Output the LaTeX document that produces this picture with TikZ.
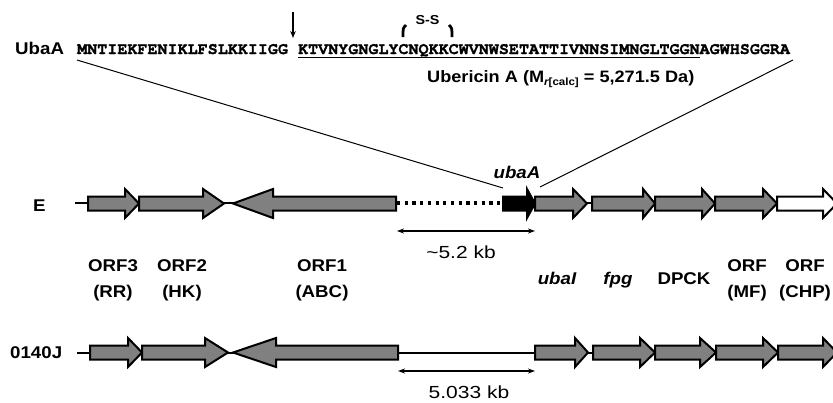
\documentclass[tikz,border=0pt]{standalone}
\usepackage{fontspec}
\setmainfont{Liberation Sans}
\newfontfamily\lab[FakeStretch=1.2]{Liberation Sans}
\newfontfamily\labb[FakeStretch=1.1]{Liberation Sans Bold}
\newfontfamily\labbi[FakeStretch=1.1]{Liberation Sans Bold Italic}
\newfontfamily\seqfont[FakeBold=1.2]{TeX Gyre Cursor Bold}
\usetikzlibrary{arrows.meta}
\definecolor{genegrey}{RGB}{128,128,128}
\newcommand\rgene[5]{\draw[gene,#5] (#1,#4-7) -- (#2,#4-7) -- (#2,#4-14.5) -- (#3,#4) -- (#2,#4+14.5) -- (#2,#4+7) -- (#1,#4+7) -- cycle;}
\newcommand\lgene[5]{\draw[gene,#5] (#3,#4-7) -- (#2,#4-7) -- (#2,#4-14.5) -- (#1,#4) -- (#2,#4+14.5) -- (#2,#4+7) -- (#3,#4+7) -- cycle;}
\begin{document}
\begin{tikzpicture}[x=1pt,y=-1pt,
  gene/.style={draw=black, line width=2pt, line join=miter, fill=genegrey},
  blab/.style={font=\labb\fontsize{17}{26}\selectfont, align=center, inner sep=0},
  ilab/.style={font=\labbi\fontsize{17}{26}\selectfont, align=center, inner sep=0},
  rlab/.style={font=\lab\fontsize{17.5}{20}\selectfont, inner sep=0},
  seq/.style={font=\seqfont\fontsize{16.73}{20}\selectfont, inner sep=0, anchor=base west},
  zoomline/.style={line width=1pt},
  dim/.style={{Stealth[length=7pt,width=5pt]}-{Stealth[length=7pt,width=5pt]}, line width=1.2pt},
  axis/.style={line width=2pt}]
\useasboundingbox (0,0) rectangle (833,402);
\clip (0,0) rectangle (833,402);

% ---- sequence
\node[blab, anchor=base west] (ubaA) at (15,54) {UbaA};
\node[seq] (seq1) at (77,54) {MNTIEKFENIKLFSLKKIIGG};
\node[seq] (seq2) at (297.9,54) {KTVNYGNGLYCNQKKCWVNWSETATTIVNNSIMNGLTGGNAGWHSGGRA};
\draw[line width=1.8pt] (297.9,57.5) -- (699.5,57.5);
\coordinate (cut0) at (293,12);
\coordinate (cut1) at (293,38);
\draw[-{Stealth[length=7pt,width=5.5pt]}, line width=1.3pt] (cut0) -- (cut1);
\node[font=\labb\fontsize{13}{14}\selectfont, inner sep=0] (ss) at (427.5,20) {S-S};
\draw[line width=2.8pt] (406,25) .. controls (403,28) .. (403,37);
\draw[line width=2.8pt] (449,25) .. controls (452,28) .. (452,37);
\node[font=\labb\fontsize{16.5}{18}\selectfont, anchor=base west, inner sep=0] (ubericin) at (427,82)
  {Ubericin A (M\raisebox{-3.5pt}{\fontsize{10.5}{10}\selectfont\labbi r\labb[calc]} = 5,271.5 Da)};

% ---- zoom lines
\coordinate (zl0) at (77,60);
\coordinate (zl1) at (503,188);
\coordinate (zr0) at (793,60);
\coordinate (zr1) at (540,187);
\draw[zoomline] (zl0) -- (zl1);
\draw[zoomline] (zr0) -- (zr1);

% ---- strain E
\node[blab, anchor=base west] (labE) at (33,211) {E};
\coordinate (e0) at (75,203);
\coordinate (e1) at (397,203);
\coordinate (e2) at (503,203);
\coordinate (e3) at (535,203);
\coordinate (e4) at (840,203);
\draw[axis] (e0) -- (e1);
\draw[line width=3.2pt, dash pattern=on 3.2pt off 4.5pt] (e1) -- (e2);
\draw[axis] (e3) -- (e4);
\rgene{88}{125}{139}{203.5}{}
\rgene{139}{203}{224}{203.5}{}
\lgene{233}{273}{396}{203.5}{}
\rgene{503}{527}{535}{203.5}{fill=black}
\rgene{535}{573}{587}{203.5}{}
\rgene{592}{643}{655}{203.5}{}
\rgene{655}{702}{715}{203.5}{}
\rgene{715}{763}{777}{203.5}{}
\rgene{777}{823}{837}{203.5}{fill=white}
\node[ilab] (ubaAlab) at (517,172) {ubaA};
\coordinate (d0) at (397,231);
\coordinate (d1) at (535,231);
\draw[dim] (d0) -- (d1);
\node[rlab] (kb1) at (461,252) {\textasciitilde5.2 kb};

% ---- gene labels
\node[blab] (l3) at (113,280) {ORF3\\(RR)};
\node[blab] (l2) at (182,280) {ORF2\\(HK)};
\node[blab] (l1) at (322,280) {ORF1\\(ABC)};
\node[ilab, anchor=base] (lI) at (557,284) {ubaI};
\node[ilab, anchor=base] (lf) at (618,284) {fpg};
\node[blab, anchor=base] (ld) at (684,284) {DPCK};
\node[blab] (lm) at (747,280) {ORF\\(MF)};
\node[blab] (lc) at (805,280) {ORF\\(CHP)};

% ---- strain 0140J
\node[blab, anchor=base west] (labJ) at (10,358) {0140J};
\coordinate (j0) at (77,352.5);
\coordinate (j1) at (840,352.5);
\draw[axis] (j0) -- (j1);
\rgene{90}{128}{142}{352.5}{}
\rgene{142}{205}{228}{352.5}{}
\lgene{233}{276}{398}{352.5}{}
\rgene{535}{575}{588}{352.5}{}
\rgene{593}{640}{655}{352.5}{}
\rgene{655}{700}{716}{352.5}{}
\rgene{716}{763}{778}{352.5}{}
\rgene{778}{823}{837}{352.5}{}
\coordinate (k0) at (398,371);
\coordinate (k1) at (535,371);
\draw[dim] (k0) -- (k1);
\node[rlab] (kb2) at (469,392) {5.033 kb};
\end{tikzpicture}
\end{document}
